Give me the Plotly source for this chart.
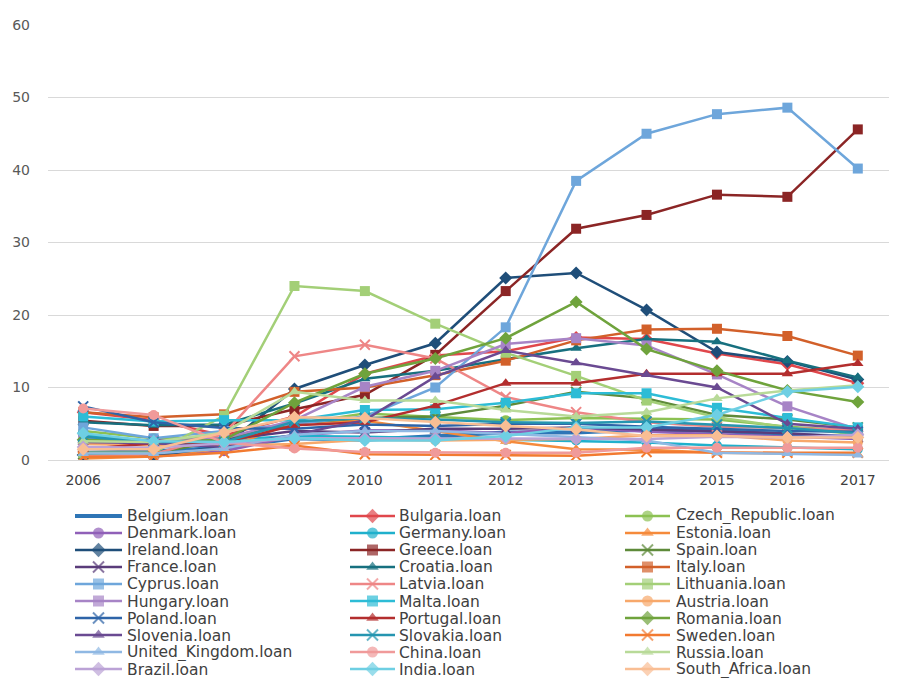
import plotly.graph_objects as go

years = ["2006", "2007", "2008", "2009", "2010", "2011", "2012", "2013", "2014", "2015", "2016", "2017"]
y_ticks = [0, 10, 20, 30, 40, 50, 60]

belgium = [1.0, 1.2, 1.7, 3.0, 2.8, 3.3, 3.8, 3.8, 4.2, 4.0, 3.5, 3.2]
bulgaria = [6.6, 5.5, 3.4, 6.0, 11.9, 14.4, 15.0, 16.9, 16.7, 14.7, 13.2, 10.6]
czech_republic = [4.0, 3.0, 3.0, 5.0, 6.4, 5.9, 5.5, 5.8, 5.7, 5.6, 4.6, 4.0]
denmark = [0.6, 0.5, 1.2, 3.3, 4.1, 4.1, 3.7, 4.5, 3.9, 3.6, 3.2, 2.9]
germany = [3.4, 2.6, 2.8, 3.3, 3.2, 3.0, 2.8, 2.7, 2.4, 2.0, 1.7, 1.5]
estonia = [0.2, 0.5, 1.6, 5.2, 5.4, 4.0, 2.6, 1.5, 1.4, 1.0, 0.9, 0.8]
ireland = [0.7, 0.6, 1.9, 9.8, 13.1, 16.1, 25.1, 25.8, 20.7, 14.9, 13.6, 11.1]
greece = [5.4, 4.7, 4.7, 7.0, 9.0, 14.5, 23.3, 31.9, 33.8, 36.6, 36.3, 45.6]
spain = [0.8, 0.9, 2.8, 5.1, 5.8, 6.0, 7.5, 9.4, 8.5, 6.2, 5.6, 4.5]
france = [3.0, 2.7, 2.8, 4.0, 3.8, 4.3, 4.3, 4.5, 4.2, 4.0, 3.7, 3.1]
croatia = [5.2, 4.8, 4.9, 7.8, 11.2, 12.3, 13.9, 15.4, 16.7, 16.3, 13.7, 11.4]
italy = [6.6, 5.9, 6.3, 9.4, 10.0, 11.7, 13.7, 16.5, 18.0, 18.1, 17.1, 14.4]
cyprus = [4.5, 3.0, 4.0, 5.0, 6.0, 10.0, 18.3, 38.5, 45.0, 47.7, 48.6, 40.2]
latvia = [0.5, 0.8, 3.6, 14.3, 15.9, 14.0, 8.7, 6.6, 5.2, 4.6, 4.4, 4.1]
lithuania = [1.0, 1.0, 6.1, 24.0, 23.3, 18.8, 14.8, 11.6, 8.2, 5.9, 4.5, 3.5]
hungary = [3.0, 2.6, 3.0, 5.5, 10.1, 12.3, 16.0, 16.8, 15.8, 11.8, 7.4, 4.2]
malta = [6.0, 5.3, 5.5, 5.5, 6.9, 7.0, 7.9, 9.2, 9.2, 7.2, 5.8, 4.5]
austria = [2.2, 2.0, 2.0, 2.2, 2.8, 2.7, 2.8, 2.9, 3.4, 3.4, 2.7, 2.4]
poland = [7.4, 5.2, 4.4, 4.3, 4.9, 4.7, 5.0, 5.0, 4.6, 4.3, 4.0, 3.9]
portugal = [1.5, 2.3, 2.4, 4.8, 5.2, 7.5, 10.6, 10.6, 11.9, 11.9, 11.9, 13.3]
romania = [2.8, 2.5, 2.8, 7.9, 11.9, 14.0, 16.8, 21.8, 15.3, 12.3, 9.6, 8.0]
slovenia = [2.5, 2.3, 1.8, 3.5, 5.5, 11.5, 15.1, 13.4, 11.8, 10.0, 5.0, 4.3]
slovakia = [3.2, 2.5, 2.5, 5.3, 5.8, 5.6, 5.2, 5.1, 5.3, 4.9, 4.4, 3.7]
sweden = [0.4, 0.5, 1.0, 2.0, 0.8, 0.7, 0.7, 0.6, 1.1, 1.0, 1.0, 1.0]
united_kingdom = [0.9, 0.9, 1.6, 3.5, 4.0, 4.0, 3.6, 3.1, 2.7, 1.0, 0.9, 0.7]
china = [7.1, 6.2, 2.4, 1.6, 1.1, 1.0, 1.0, 1.0, 1.7, 1.7, 1.7, 1.7]
russia = [2.6, 2.5, 3.8, 9.4, 8.2, 8.2, 6.9, 6.0, 6.6, 8.5, 9.6, 10.3]
brazil = [1.8, 1.7, 2.3, 3.0, 3.0, 3.0, 3.0, 2.9, 2.9, 3.2, 3.1, 3.5]
india = [3.7, 2.6, 2.5, 3.0, 2.7, 2.7, 3.3, 4.5, 4.5, 6.2, 9.4, 10.1]
south_africa = [1.5, 1.5, 3.8, 5.9, 5.8, 5.2, 4.7, 4.2, 3.3, 3.3, 3.1, 3.1]

series_names = [
    "Belgium.loan", "Bulgaria.loan", "Czech_Republic.loan", "Denmark.loan", "Germany.loan",
    "Estonia.loan", "Ireland.loan", "Greece.loan", "Spain.loan", "France.loan",
    "Croatia.loan", "Italy.loan", "Cyprus.loan", "Latvia.loan", "Lithuania.loan",
    "Hungary.loan", "Malta.loan", "Austria.loan", "Poland.loan", "Portugal.loan",
    "Romania.loan", "Slovenia.loan", "Slovakia.loan", "Sweden.loan", "United_Kingdom.loan",
    "China.loan", "Russia.loan", "Brazil.loan", "India.loan", "South_Africa.loan",
]
series_values = [
    belgium, bulgaria, czech_republic, denmark, germany, estonia, ireland, greece, spain,
    france, croatia, italy, cyprus, latvia, lithuania, hungary, malta, austria, poland,
    portugal, romania, slovenia, slovakia, sweden, united_kingdom, china, russia, brazil,
    india, south_africa,
]

colors = [
    "#2E75B6", "#E0474C", "#8CC152", "#9060B8", "#1FB0CC", "#F58A3B",
    "#1F4E79", "#8B2525", "#5E8A3A", "#5A3C7A", "#17707F", "#D2602A",
    "#6EA6DB", "#EE8686", "#A3CF77", "#A784C6", "#2DBCD6", "#F7A86B",
    "#2E64A8", "#B32E2E", "#6FA33C", "#6A4A92", "#2595B0", "#F27A30",
    "#8FB8E3", "#F09A9A", "#B8DA98", "#BBA2D6", "#6ECFE3", "#F9BE94",
]
symbols = [
    None, "diamond", "circle", "circle", "circle", "triangle-up",
    "diamond", "square", "x-thin", "x-thin", "triangle-up", "square",
    "square", "x-thin", "square", "square", "square", "circle",
    "x-thin", "triangle-up", "diamond", "triangle-up", "x-thin", "x-thin",
    "triangle-up", "circle", "triangle-up", "diamond", "diamond", "diamond",
]

# page body has an 8px default margin: the figure is placed at (8, 8)
OFF = 8
W, H = 897 - OFF, 682 - OFF
M_L, M_R, M_T, M_B = 48 - OFF, 4, 25 - OFF, 0
plot_h = H - M_T - M_B
plot_bottom_px = 460 - OFF
main_dom_bottom = (H - M_B - plot_bottom_px) / plot_h
leg_dom_top = 0.32
leg_top_px = H - M_B - leg_dom_top * plot_h
FONT = "DejaVu Sans, Verdana, sans-serif"


def mk_marker(sym, col, sizes):
    if sym == "x-thin":
        return dict(symbol=sym, size=sizes, color=col, line=dict(color=col, width=2))
    return dict(symbol=sym, size=sizes, color=col, line=dict(width=0))


fig = go.Figure()
for name, vals, col, sym in zip(series_names, series_values, colors, symbols):
    if sym is None:
        fig.add_trace(go.Scatter(x=years, y=vals, name=name, mode="lines",
                                 line=dict(color=col, width=4)))
    else:
        fig.add_trace(go.Scatter(x=years, y=vals, name=name, mode="lines+markers",
                                 line=dict(color=col, width=2.5),
                                 marker=mk_marker(sym, col, 10)))

# manual legend (3 columns, row-major order), positioned in figure pixel coordinates
col_line_x = [(75 - OFF, 122 - OFF), (350 - OFF, 395 - OFF), (625 - OFF, 670 - OFF)]
col_text_x = [127 - OFF, 399 - OFF, 676 - OFF]
row0_y, row_dy = 516 - OFF, 17
annotations = []
for k, (name, col, sym) in enumerate(zip(series_names, colors, symbols)):
    r, c = divmod(k, 3)
    yy = row0_y + r * row_dy
    x0, x1 = col_line_x[c]
    xm = (x0 + x1) / 2
    if sym is None:
        fig.add_trace(go.Scatter(x=[x0, x1], y=[yy, yy], mode="lines", xaxis="x2", yaxis="y2",
                                 line=dict(color=col, width=4), showlegend=False, hoverinfo="skip"))
    else:
        fig.add_trace(go.Scatter(x=[x0, xm, x1], y=[yy, yy, yy], mode="lines+markers",
                                 xaxis="x2", yaxis="y2", line=dict(color=col, width=2.5),
                                 marker=mk_marker(sym, col, [0, 11, 0]),
                                 showlegend=False, hoverinfo="skip"))
    annotations.append(dict(x=col_text_x[c], y=yy, xref="x2", yref="y2", text=name,
                            showarrow=False, xanchor="left", yanchor="middle",
                            borderpad=0, borderwidth=0, height=17,
                            font=dict(size=15.5, color="#404040", family=FONT)))

fig.update_layout(
    width=W, height=H,
    margin=dict(l=M_L, r=M_R, t=M_T, b=M_B),
    paper_bgcolor="white", plot_bgcolor="white",
    font=dict(family=FONT, color="#595959"),
    showlegend=False,
    xaxis=dict(
        type="category", range=[-0.5, 11.5], showgrid=False,
        showline=True, linecolor="#D9D9D9", linewidth=1,
        tickfont=dict(size=14, color="#404040"), ticks="", ticklabelstandoff=7,
        domain=[0, 1], anchor="y", automargin=False,
    ),
    yaxis=dict(
        range=[0, 60], tickvals=y_ticks, showgrid=True, gridcolor="#D9D9D9", gridwidth=1,
        zeroline=False, showline=False, tickfont=dict(size=14, color="#595959"),
        ticks="", ticklabelstandoff=17, domain=[main_dom_bottom, 1], anchor="x",
        automargin=False,
    ),
    xaxis2=dict(range=[M_L, W - M_R], domain=[0, 1], visible=False, anchor="y2",
                fixedrange=True, automargin=False),
    yaxis2=dict(range=[H - M_B, leg_top_px], domain=[0, leg_dom_top], visible=False,
                anchor="x2", fixedrange=True, automargin=False),
    annotations=annotations,
)

fig.write_html("out.html")
